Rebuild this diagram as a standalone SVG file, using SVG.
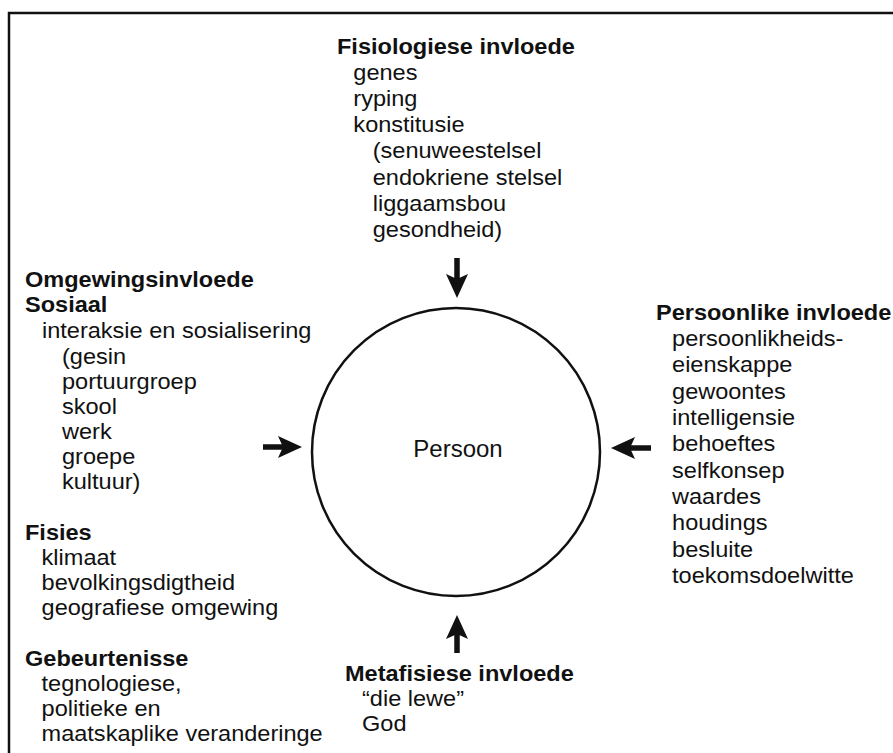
<svg xmlns="http://www.w3.org/2000/svg" width="893" height="753" viewBox="0 0 893 753">
<style>
  text { font-family: "Liberation Sans", Arial, sans-serif; font-size: 22px; fill: #111; }
  .b { font-weight: bold; }
  .frame { stroke: #111; stroke-width: 2.5; fill: none; }
  .arrow { stroke: #111; stroke-width: 5.5; fill: none; marker-end: url(#head); }
</style>
<defs>
  <marker id="head" markerUnits="userSpaceOnUse" markerWidth="24" markerHeight="22" refX="5" refY="11" orient="auto">
    <path d="M0,0 L24,11 L0,22 L5,11 z" fill="#111"/>
  </marker>
</defs>
<rect width="893" height="753" fill="#fff"/>
<path class="frame" d="M9,753 L9,13 L893,13"/>

<g id="persoon">
  <circle cx="456" cy="452" r="144" fill="none" stroke="#111" stroke-width="2.5"/>
  <text x="458" y="457" text-anchor="middle" style="font-size:24px">Persoon</text>
</g>

<g id="fisiologiese" transform="translate(337,0) scale(1.07,1)">
  <text class="b" x="0" y="54">Fisiologiese invloede</text>
  <text x="15.3" y="80">genes</text>
  <text x="15.3" y="106">ryping</text>
  <text x="15.3" y="132">konstitusie</text>
  <text x="33.4" y="158">(senuweestelsel</text>
  <text x="33.4" y="185">endokriene stelsel</text>
  <text x="33.4" y="211">liggaamsbou</text>
  <text x="33.4" y="237">gesondheid)</text>
</g>

<g id="omgewings" transform="translate(25,0) scale(1.07,1)">
  <text class="b" x="0" y="287">Omgewingsinvloede</text>
  <text class="b" x="0" y="312">Sosiaal</text>
  <text x="15.9" y="338">interaksie en sosialisering</text>
  <text x="34.6" y="364">(gesin</text>
  <text x="34.6" y="389">portuurgroep</text>
  <text x="34.6" y="414">skool</text>
  <text x="34.6" y="439">werk</text>
  <text x="34.6" y="464">groepe</text>
  <text x="34.6" y="489">kultuur)</text>
  <text class="b" x="0" y="540">Fisies</text>
  <text x="15.5" y="565">klimaat</text>
  <text x="15.5" y="590">bevolkingsdigtheid</text>
  <text x="15.5" y="615">geografiese omgewing</text>
  <text class="b" x="0" y="666">Gebeurtenisse</text>
  <text x="15.5" y="691">tegnologiese,</text>
  <text x="15.5" y="716">politieke en</text>
  <text x="15.5" y="741">maatskaplike veranderinge</text>
</g>

<g id="persoonlike" transform="translate(656,0) scale(1.07,1)">
  <text class="b" x="0" y="320">Persoonlike invloede</text>
  <text x="15" y="346">persoonlikheids-</text>
  <text x="15" y="372">eienskappe</text>
  <text x="15" y="399">gewoontes</text>
  <text x="15" y="425">intelligensie</text>
  <text x="15" y="451">behoeftes</text>
  <text x="15" y="478">selfkonsep</text>
  <text x="15" y="504">waardes</text>
  <text x="15" y="530">houdings</text>
  <text x="15" y="557">besluite</text>
  <text x="15" y="583">toekomsdoelwitte</text>
</g>

<g id="metafisiese" transform="translate(345,0) scale(1.07,1)">
  <text class="b" x="0" y="681">Metafisiese invloede</text>
  <text x="15.9" y="706">“die lewe”</text>
  <text x="15.9" y="731">God</text>
</g>

<g id="connectors">
  <line class="arrow" x1="457" y1="258" x2="457" y2="279"/>
  <line class="arrow" x1="263" y1="447" x2="283" y2="447"/>
  <line class="arrow" x1="651" y1="448" x2="630" y2="448"/>
  <line class="arrow" x1="457" y1="653" x2="457" y2="634"/>
</g>
</svg>
